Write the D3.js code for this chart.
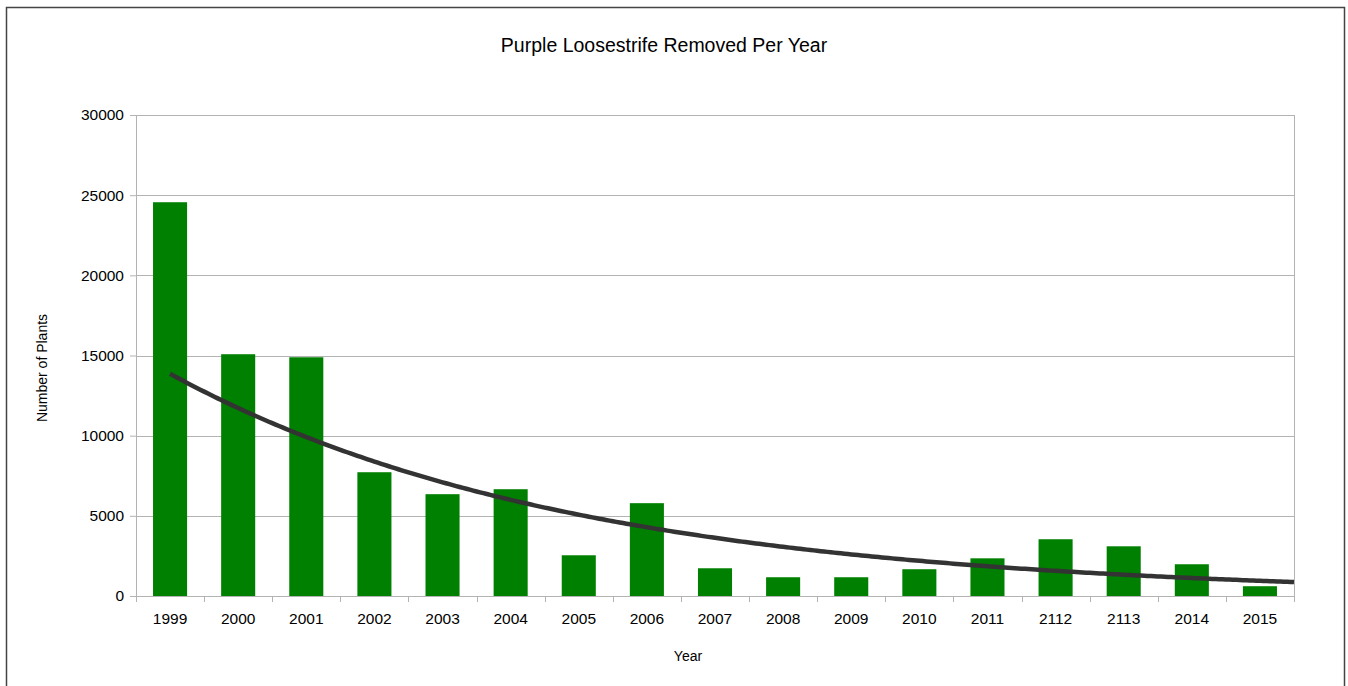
<!DOCTYPE html>
<html>
<head>
<meta charset="utf-8">
<script src="https://cdn.jsdelivr.net/npm/d3@7"></script>
<style>
  html, body { margin: 0; padding: 0; background: #fff; }
  svg { display: block; font-family: "Liberation Sans", Arial, sans-serif; }
</style>
</head>
<body>
<svg id="chart" width="1348" height="686"></svg>
<script>
const years = ["1999","2000","2001","2002","2003","2004","2005","2006","2007","2008","2009","2010","2011","2112","2113","2014","2015"];
const plants = [24560, 15080, 14890, 7720, 6350, 6660, 2540, 5790, 1730, 1170, 1170, 1670, 2350, 3540, 3100, 1980, 610];
const yTicks = [0, 5000, 10000, 15000, 20000, 25000, 30000];
const title = "Purple Loosestrife Removed Per Year";
const xTitle = "Year";
const yTitle = "Number of Plants";

const svg = d3.select("#chart");
const W = 1348, H = 686;
const m = {left: 136, right: 1294, top: 115, bottom: 596};

svg.append("rect").attr("x", 6.5).attr("y", 7.5).attr("width", 1338).attr("height", 690)
  .attr("fill", "#fff").attr("stroke", "#444").attr("stroke-width", 1.5);

const x = d3.scaleBand().domain(years).range([m.left, m.right]).paddingInner(0.5).paddingOuter(0.25);
const y = d3.scaleLinear().domain([0, 30000]).range([m.bottom, m.top]);

// gridlines + y axis
const yAxis = d3.axisLeft(y).tickValues(yTicks).tickSize(6).tickPadding(6).tickFormat(d3.format("d"));
const gy = svg.append("g").attr("transform", `translate(${m.left},0)`).call(yAxis);
gy.select(".domain").remove();
gy.selectAll(".tick line").attr("stroke", "#b3b3b3");
gy.selectAll(".tick text").attr("font-size", "15.5px").attr("fill", "#000").attr("font-family", "Liberation Sans, Arial, sans-serif");

svg.append("g").selectAll("line").data(yTicks).join("line")
  .attr("x1", m.left).attr("x2", m.right)
  .attr("y1", d => Math.round(y(d)) + 0.5).attr("y2", d => Math.round(y(d)) + 0.5)
  .attr("stroke", "#b3b3b3").attr("stroke-width", 1);

// plot frame verticals
svg.append("line").attr("x1", m.left + 0.5).attr("x2", m.left + 0.5).attr("y1", m.top).attr("y2", m.bottom)
  .attr("stroke", "#b3b3b3");
svg.append("line").attr("x1", m.right + 0.5).attr("x2", m.right + 0.5).attr("y1", m.top).attr("y2", m.bottom)
  .attr("stroke", "#b3b3b3");

// bars
svg.append("g").selectAll("rect").data(years).join("rect")
  .attr("x", d => x(d))
  .attr("width", x.bandwidth())
  .attr("y", (d, i) => y(plants[i]))
  .attr("height", (d, i) => y(0) - y(plants[i]))
  .attr("fill", "#008000");

// x axis
const bounds = d3.range(years.length + 1).map(i => m.left + i * (m.right - m.left) / years.length);
svg.append("g").selectAll("line").data(bounds).join("line")
  .attr("x1", d => Math.round(d) + 0.5).attr("x2", d => Math.round(d) + 0.5)
  .attr("y1", m.bottom).attr("y2", m.bottom + 6)
  .attr("stroke", "#b3b3b3");
svg.append("line").attr("x1", m.left).attr("x2", m.right + 1).attr("y1", Math.round(y(0)) + 0.5).attr("y2", Math.round(y(0)) + 0.5)
  .attr("stroke", "#b3b3b3");
svg.append("g").selectAll("text").data(years).join("text")
  .attr("x", d => x(d) + x.bandwidth() / 2)
  .attr("y", 624)
  .attr("text-anchor", "middle")
  .attr("font-size", "15.5px")
  .text(d => d);

// exponential trend line (least squares on ln values)
const n = plants.length;
const lx = d3.range(n);
const ly = plants.map(v => Math.log(v));
const mx = d3.mean(lx), my = d3.mean(ly);
const b = d3.sum(lx, (v, i) => (v - mx) * (ly[i] - my)) / d3.sum(lx, v => (v - mx) * (v - mx));
const a = my - b * mx;
const xi = d3.scaleLinear().domain([0, n - 1]).range([x(years[0]) + x.bandwidth() / 2, x(years[n - 1]) + x.bandwidth() / 2]);
const tEnd = xi.invert(m.right);
const pts = d3.range(0, tEnd, 0.05).concat([tEnd]).map(t => [xi(t), y(Math.exp(a + b * t))]);
svg.append("path").attr("d", d3.line()(pts)).attr("fill", "none")
  .attr("stroke", "#333333").attr("stroke-width", 4.5).attr("stroke-linecap", "butt");

// titles
svg.append("text").attr("x", 664).attr("y", 52).attr("text-anchor", "middle")
  .attr("font-size", "19.5px").text(title);
svg.append("text").attr("x", 688).attr("y", 661).attr("text-anchor", "middle")
  .attr("font-size", "14px").text(xTitle);
svg.append("text").attr("transform", "translate(47,368) rotate(-90)").attr("text-anchor", "middle")
  .attr("font-size", "14px").text(yTitle);
</script>
</body>
</html>
